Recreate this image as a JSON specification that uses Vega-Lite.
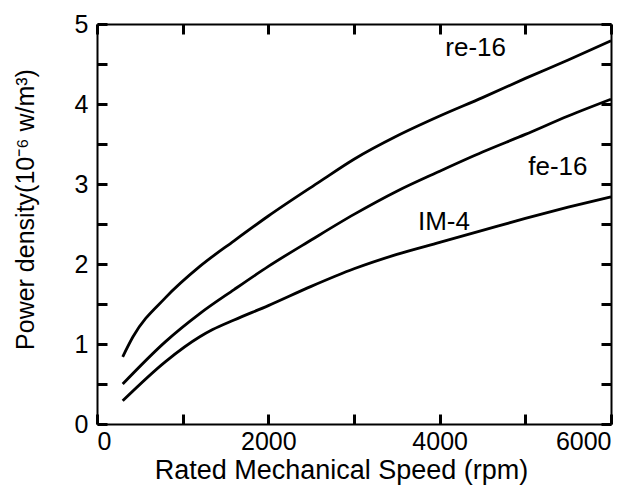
{
  "$schema": "https://vega.github.io/schema/vega-lite/v6.json",
  "width": 514,
  "height": 400,
  "autosize": {"type": "none"},
  "padding": {"left": 97, "top": 24, "right": 27, "bottom": 62},
  "background": "white",
  "config": {
    "view": {"stroke": null},
    "font": "Liberation Sans",
    "axis": {
      "domainColor": "black",
      "domainWidth": 2,
      "grid": false,
      "labelColor": "black",
      "labelFont": "Liberation Sans",
      "labelFontSize": 25,
      "titleColor": "black",
      "titleFont": "Liberation Sans",
      "titleFontWeight": "normal",
      "titleFontSize": 27
    }
  },
  "datasets": {
    "curves": [
      {"series": "re-16", "rpm": 300, "power": 0.84},
      {"series": "re-16", "rpm": 420, "power": 1.09},
      {"series": "re-16", "rpm": 800, "power": 1.58},
      {"series": "re-16", "rpm": 1200, "power": 1.97},
      {"series": "re-16", "rpm": 1600, "power": 2.29},
      {"series": "re-16", "rpm": 2000, "power": 2.6},
      {"series": "re-16", "rpm": 2600, "power": 3.03},
      {"series": "re-16", "rpm": 3000, "power": 3.31},
      {"series": "re-16", "rpm": 3500, "power": 3.6},
      {"series": "re-16", "rpm": 4000, "power": 3.85},
      {"series": "re-16", "rpm": 4500, "power": 4.08},
      {"series": "re-16", "rpm": 5000, "power": 4.32},
      {"series": "re-16", "rpm": 5500, "power": 4.55},
      {"series": "re-16", "rpm": 6000, "power": 4.79},
      {"series": "fe-16", "rpm": 300, "power": 0.5},
      {"series": "fe-16", "rpm": 800, "power": 1.03},
      {"series": "fe-16", "rpm": 1200, "power": 1.38},
      {"series": "fe-16", "rpm": 1600, "power": 1.68},
      {"series": "fe-16", "rpm": 2000, "power": 1.97},
      {"series": "fe-16", "rpm": 2500, "power": 2.3},
      {"series": "fe-16", "rpm": 3000, "power": 2.62},
      {"series": "fe-16", "rpm": 3500, "power": 2.91},
      {"series": "fe-16", "rpm": 4000, "power": 3.16},
      {"series": "fe-16", "rpm": 4500, "power": 3.4},
      {"series": "fe-16", "rpm": 5000, "power": 3.62},
      {"series": "fe-16", "rpm": 5500, "power": 3.85},
      {"series": "fe-16", "rpm": 6000, "power": 4.06},
      {"series": "IM-4", "rpm": 300, "power": 0.29},
      {"series": "IM-4", "rpm": 800, "power": 0.78},
      {"series": "IM-4", "rpm": 1200, "power": 1.09},
      {"series": "IM-4", "rpm": 1350, "power": 1.18},
      {"series": "IM-4", "rpm": 1600, "power": 1.3},
      {"series": "IM-4", "rpm": 2000, "power": 1.48},
      {"series": "IM-4", "rpm": 2500, "power": 1.72},
      {"series": "IM-4", "rpm": 3000, "power": 1.94},
      {"series": "IM-4", "rpm": 3500, "power": 2.12},
      {"series": "IM-4", "rpm": 4000, "power": 2.27},
      {"series": "IM-4", "rpm": 4500, "power": 2.42},
      {"series": "IM-4", "rpm": 5000, "power": 2.57},
      {"series": "IM-4", "rpm": 5500, "power": 2.71},
      {"series": "IM-4", "rpm": 6000, "power": 2.84}
    ],
    "labels": [
      {"label": "re-16", "rpm": 4420, "power": 4.7},
      {"label": "fe-16", "rpm": 5380, "power": 3.21},
      {"label": "IM-4", "rpm": 4050, "power": 2.52}
    ]
  },
  "layer": [
    {
      "data": {"name": "curves"},
      "mark": {"type": "line", "color": "black", "strokeWidth": 2.8, "interpolate": "monotone"},
      "encoding": {
        "x": {
          "field": "rpm", "type": "quantitative",
          "scale": {"domain": [0, 6000], "nice": false},
          "axis": {
            "orient": "bottom",
            "values": [0, 2000, 4000, 6000],
            "format": "d",
            "domain": false,
            "ticks": false,
            "labelPadding": 5,
            "title": "Rated Mechanical Speed (rpm)",
            "titleX": 244,
            "titleY": 54,
            "titleBaseline": "alphabetic"
          }
        },
        "y": {
          "field": "power", "type": "quantitative",
          "scale": {"domain": [0, 5], "nice": false},
          "axis": {
            "orient": "left",
            "values": [0, 1, 2, 3, 4, 5],
            "format": "d",
            "domain": false,
            "ticks": false,
            "labelPadding": 9,
            "title": "Power density(10⁻⁶ w/m³)",
            "titleFontSize": 25,
            "titleX": -72,
            "titleY": 185,
            "titleBaseline": "middle"
          }
        },
        "detail": {"field": "series"}
      }
    },
    {
      "data": {"name": "labels"},
      "mark": {"type": "text", "color": "black", "fontSize": 26, "font": "Liberation Sans"},
      "encoding": {
        "x": {
          "field": "rpm", "type": "quantitative",
          "scale": {"domain": [0, 6000], "nice": false},
          "axis": {"orient": "top", "offset": -400, "values": [0, 1000, 2000, 3000, 4000, 5000, 6000], "labels": false, "tickSize": 10, "tickWidth": 3, "tickColor": "#000000", "title": null}
        },
        "y": {
          "field": "power", "type": "quantitative",
          "scale": {"domain": [0, 5], "nice": false},
          "axis": {"orient": "right", "offset": -514, "values": [0, 0.5, 1, 1.5, 2, 2.5, 3, 3.5, 4, 4.5, 5], "labels": false, "tickSize": 10, "tickWidth": 3, "tickColor": "#000000", "title": null}
        },
        "text": {"field": "label"}
      }
    },
    {
      "data": {"name": "labels"},
      "mark": {"type": "point", "opacity": 0},
      "encoding": {
        "x": {
          "field": "rpm", "type": "quantitative",
          "scale": {"domain": [0, 6000], "nice": false},
          "axis": {"orient": "bottom", "offset": -400, "values": [0, 1000, 2000, 3000, 4000, 5000, 6000], "labels": false, "tickSize": 10, "tickWidth": 3, "tickColor": "#000000", "title": null}
        },
        "y": {
          "field": "power", "type": "quantitative",
          "scale": {"domain": [0, 5], "nice": false},
          "axis": {"orient": "left", "offset": -514, "values": [0, 0.5, 1, 1.5, 2, 2.5, 3, 3.5, 4, 4.5, 5], "labels": false, "tickSize": 10, "tickWidth": 3, "tickColor": "#000000", "title": null}
        }
      }
    }
  ],
  "resolve": {"axis": {"x": "independent", "y": "independent"}}
}
